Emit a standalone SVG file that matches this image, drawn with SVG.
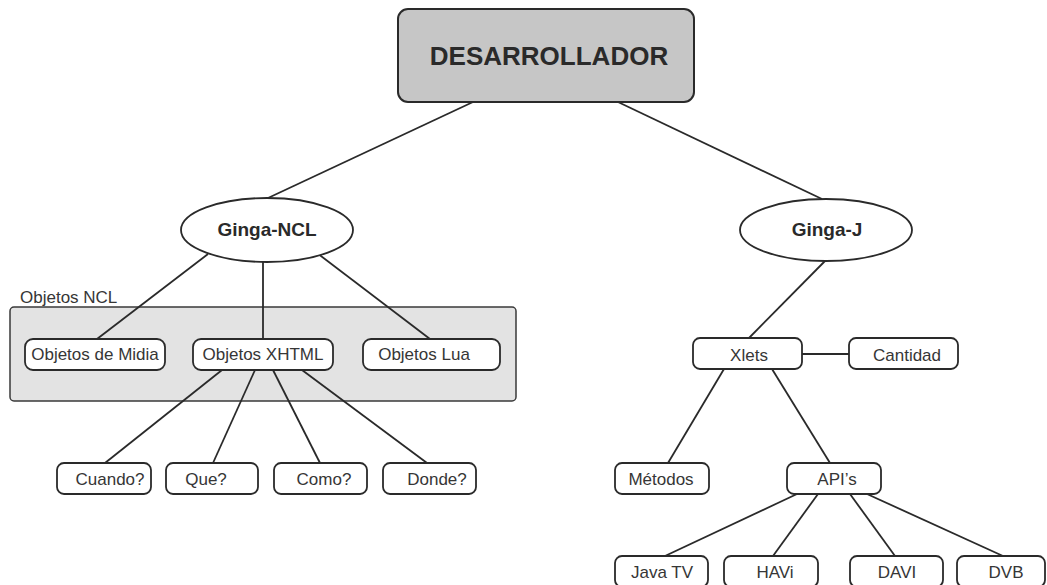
<svg xmlns="http://www.w3.org/2000/svg" width="1047" height="585" viewBox="0 0 1047 585">
<style>
.box{fill:#fff;stroke:#2a2a2a;stroke-width:1.8}
.ell{fill:#fff;stroke:#2a2a2a;stroke-width:1.8}
.lbl{font-family:"Liberation Sans",Arial,sans-serif;font-size:17px;fill:#363636;text-anchor:middle}
.bold{font-family:"Liberation Sans",Arial,sans-serif;font-weight:bold;fill:#2a2a2a;text-anchor:middle}
.conn line{stroke:#2a2a2a;stroke-width:1.8}
</style>
<rect width="1047" height="585" fill="#fff"/>
<g id="grupo-objetos-ncl">
<rect x="10" y="307" width="506" height="94" rx="4" fill="#e3e3e3" stroke="#3a3a3a" stroke-width="1.5"/>
<text x="20" y="303" font-family="Liberation Sans,Arial,sans-serif" font-size="17" fill="#363636">Objetos NCL</text>
</g>
<g class="conn" id="connectors">
<line x1="473" y1="102" x2="268" y2="198"/>
<line x1="618" y1="102" x2="822" y2="199"/>
<line x1="208" y1="254" x2="97" y2="339"/>
<line x1="263" y1="262" x2="263" y2="339"/>
<line x1="317" y1="253" x2="430" y2="339"/>
<line x1="222" y1="370" x2="105" y2="463"/>
<line x1="255" y1="370" x2="213" y2="463"/>
<line x1="273" y1="370" x2="320" y2="463"/>
<line x1="302" y1="370" x2="427" y2="463"/>
<line x1="825" y1="261" x2="749" y2="338"/>
<line x1="802" y1="354" x2="849" y2="354"/>
<line x1="724" y1="369" x2="668" y2="463"/>
<line x1="772" y1="369" x2="830" y2="463"/>
<line x1="797" y1="494" x2="665" y2="556"/>
<line x1="818" y1="494" x2="773" y2="556"/>
<line x1="850" y1="494" x2="895" y2="556"/>
<line x1="867" y1="494" x2="1003" y2="556"/>
</g>
<g id="desarrollador">
<rect x="398" y="9" width="296" height="93" rx="10" fill="#c6c6c6" stroke="#2a2a2a" stroke-width="2"/>
<text x="549" y="65" class="bold" font-size="26">DESARROLLADOR</text>
</g>
<g id="ginga-ncl">
<ellipse cx="267" cy="230" rx="86" ry="32" class="ell"/>
<text x="267" y="236" class="bold" font-size="19">Ginga-NCL</text>
</g>
<g id="ginga-j">
<ellipse cx="826" cy="230" rx="86" ry="31" class="ell"/>
<text x="827" y="236" class="bold" font-size="19">Ginga-J</text>
</g>
<g id="objetos-midia"><rect x="25" y="339" width="140" height="31" rx="8" class="box"/><text x="95" y="360" class="lbl">Objetos de Midia</text></g>
<g id="objetos-xhtml"><rect x="193" y="339" width="140" height="31" rx="8" class="box"/><text x="263" y="360" class="lbl">Objetos XHTML</text></g>
<g id="objetos-lua"><rect x="363" y="339" width="137" height="31" rx="8" class="box"/><text x="424" y="360" class="lbl">Objetos Lua</text></g>
<g id="cuando"><rect x="57" y="463" width="94" height="31" rx="7" class="box"/><text x="110" y="485" class="lbl">Cuando?</text></g>
<g id="que"><rect x="166" y="463" width="92" height="31" rx="7" class="box"/><text x="206" y="485" class="lbl">Que?</text></g>
<g id="como"><rect x="274" y="463" width="93" height="31" rx="7" class="box"/><text x="324" y="485" class="lbl">Como?</text></g>
<g id="donde"><rect x="383" y="463" width="93" height="31" rx="7" class="box"/><text x="437" y="485" class="lbl">Donde?</text></g>
<g id="xlets"><rect x="693" y="338" width="109" height="31" rx="7" class="box"/><text x="749" y="361" class="lbl">Xlets</text></g>
<g id="cantidad"><rect x="849" y="338" width="109" height="31" rx="7" class="box"/><text x="907" y="361" class="lbl">Cantidad</text></g>
<g id="metodos"><rect x="615" y="463" width="94" height="31" rx="7" class="box"/><text x="661" y="485" class="lbl">Métodos</text></g>
<g id="apis"><rect x="787" y="463" width="94" height="31" rx="7" class="box"/><text x="837" y="485" class="lbl">API’s</text></g>
<g id="java-tv"><rect x="615" y="556" width="93" height="31" rx="7" class="box"/><text x="662" y="578" class="lbl">Java TV</text></g>
<g id="havi"><rect x="724" y="556" width="94" height="31" rx="7" class="box"/><text x="775" y="578" class="lbl">HAVi</text></g>
<g id="davi"><rect x="850" y="556" width="93" height="31" rx="7" class="box"/><text x="897" y="578" class="lbl">DAVI</text></g>
<g id="dvb"><rect x="957" y="556" width="88" height="31" rx="7" class="box"/><text x="1006" y="578" class="lbl">DVB</text></g>
</svg>
